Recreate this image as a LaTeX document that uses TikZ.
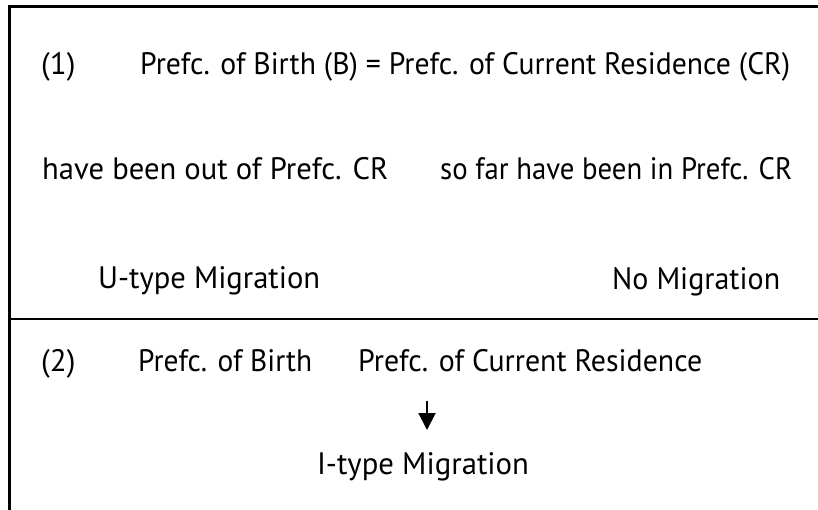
\documentclass[tikz,border=0pt]{standalone}
\usepackage{fontspec}
\usepackage{graphicx}
\setmainfont{PT Sans}
\usetikzlibrary{arrows.meta}
\newcommand\fitw[2]{\resizebox{#1pt}{\height}{#2}}
\begin{document}
\begin{tikzpicture}[x=1pt,y=-1pt,
  lbl/.style={inner sep=0pt,anchor=base west,font=\fontsize{31}{33}\selectfont},
  frame/.style={line width=2.6pt,line cap=rect},
  arr/.style={line width=2pt,-{Triangle[length=17pt,width=17pt]}}]
\useasboundingbox (0,0) rectangle (818,510);
\coordinate (tl) at (9.5,6.5);
\coordinate (tr) at (818,6.5);
\coordinate (bl) at (9.5,510);
\coordinate (dl) at (9.5,319);
\coordinate (dr) at (818,319);
\draw[frame] (tr) -- (tl) -- (bl);
\draw[frame] (dl) -- (dr);
\node[lbl] (n1) at (41,75) {(1)};
\node[lbl] (eq) at (140,75) {\fitw{650}{Prefc. of Birth (B) = Prefc. of Current Residence (CR)}};
\node[lbl] (out) at (42,180) {\fitw{346}{have been out of Prefc. CR}};
\node[lbl] (in) at (440,180) {\fitw{352}{so far have been in Prefc. CR}};
\node[lbl] (u) at (98,289) {\fitw{222}{U-type Migration}};
\node[lbl] (no) at (612,289) {\fitw{168}{No Migration}};
\node[lbl] (n2) at (41,371) {(2)};
\node[lbl] (pb) at (138,371) {\fitw{174}{Prefc. of Birth}};
\node[lbl] (pc) at (358,371) {\fitw{344}{Prefc. of Current Residence}};
\coordinate (a1) at (427,401);
\coordinate (a2) at (427,430);
\draw[arr] (a1) -- (a2);
\node[inner sep=0pt,anchor=base,font=\fontsize{31}{33}\selectfont] (it) at (423,474) {\fitw{212}{I-type Migration}};
\end{tikzpicture}
\end{document}
